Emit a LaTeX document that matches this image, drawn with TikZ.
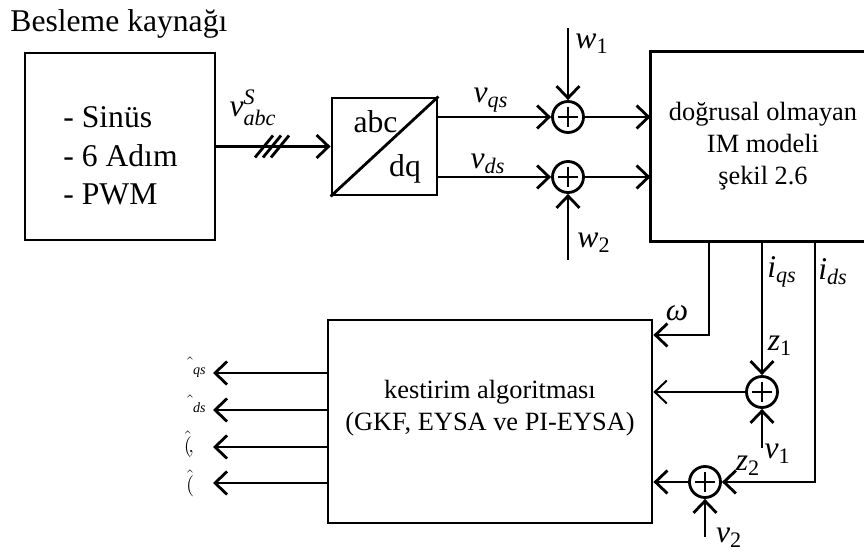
\documentclass[tikz,border=0pt]{standalone}
\usepackage{amsmath}
\usepackage{fontspec}
\setmainfont{Liberation Serif}
\usetikzlibrary{arrows.meta, positioning, calc}

\newcommand{\isaret}[2]{$\textit{#1}_{\textit{#2}}$}
\newcommand{\gurultu}[2]{$\textit{#1}_{\textup{#2}}$}

\begin{document}
\begin{tikzpicture}[line width=1.6pt,
  >={Straight Barb[length=2.4mm, width=4.6mm]},
  every node/.style={font=\fontsize{18}{21.8}\selectfont, inner sep=0pt},
  blok/.style={draw, rectangle, line width=1.6pt},
  icyazi/.style={align=center, font=\fontsize{15}{18.2}\selectfont},
  tahmin/.style={anchor=east, font=\fontsize{12}{14}\selectfont},
  topla/.style={draw, circle, minimum size=0.62cm, line width=1.6pt,
    path picture={\draw[line width=1.2pt]
      ([xshift=-0.2cm]path picture bounding box.center) -- ([xshift=0.2cm]path picture bounding box.center)
      ([yshift=-0.2cm]path picture bounding box.center) -- ([yshift=0.2cm]path picture bounding box.center);}}]
  \useasboundingbox (0,0) rectangle (17.28,11.06);
  \clip (0,0) rectangle (17.28,11.06);
  % Besleme kaynagi
  \node[anchor=base west] (baslik) at (0.18,10.42) {Besleme kaynağı};
  \node[blok, minimum width=3.8cm, minimum height=3.74cm] (kaynak) at (2.4,8.13) {};
  \node[align=left] (secenek) at (2.41,7.94) {- Sinüs\\- 6 Adım\\- PWM};
  % abc/dq donusumu
  \node[blok, minimum width=2.1cm, minimum height=1.94cm] (donusum) at (7.69,8.13) {};
  \draw (donusum.south west) -- (donusum.north east);
  \node (abc) at (7.51,8.62) {abc};
  \node (dq) at (8.1,7.69) {dq};
  \draw[->] (kaynak.east) -- (donusum.west);
  \coordinate (cizgi) at (5.44,8.13);
  \foreach \dx in {-0.16,0,0.16}
    \draw ($(cizgi)+(\dx-0.18,-0.22)$) -- ++(0.36,0.44);
  \node (vabc) at (5.06,8.9) {$\textit{v}^{\textit{S}}_{\textit{abc}}$};
  % toplama noktalari
  \node[topla] (s1) at (11.36,8.72) {};
  \node[topla] (s2) at (11.36,7.52) {};
  \coordinate (w1) at (11.36,10.5);
  \coordinate (w2) at (11.36,5.86);
  \draw[->] (donusum.east |- s1) -- (s1);
  \draw[->] (donusum.east |- s2) -- (s2);
  \draw[->] (w1) -- (s1);
  \draw[->] (w2) -- (s2);
  \node (vqs) at (9.82,9.06) {\isaret{v}{qs}};
  \node (vds) at (9.76,7.78) {\isaret{v}{ds}};
  \node (w1lab) at (11.84,10.18) {\gurultu{w}{1}};
  \node (w2lab) at (11.88,6.2) {\gurultu{w}{2}};
  % IM modeli
  \node[minimum width=4.44cm, minimum height=3.74cm, icyazi] (im) at (15.26,8.13)
    {doğrusal olmayan\\IM modeli\\şekil 2.6};
  \draw (im.north east) -- (im.north west) -- (im.south west) -- (im.south east);
  \draw[->] (s1) -- (im.west |- s1);
  \draw[->] (s2) -- (im.west |- s2);
  % kestirim algoritmasi
  \node[blok, minimum width=6.48cm, minimum height=4.06cm] (kes) at (9.8,2.63) {};
  \node[icyazi] (kesyazi) at (9.8,2.9) {kestirim algoritması\\(GKF, EYSA ve PI-EYSA)};
  % geri besleme
  \coordinate (om) at (14.18,4.36);
  \draw[->] (im.south -| om) -- (om) -- (kes.east |- om);
  \node (omlab) at (13.54,4.8) {\textit{ω}};
  \node[topla] (s3) at (15.24,3.22) {};
  \coordinate (v1) at (15.24,2.1);
  \draw[->] (im.south -| s3) -- (s3);
  \draw[->] (v1) -- (s3);
  \draw[->, line width=1.1pt] (s3) -- (kes.east |- s3);
  \node (iqs) at (15.64,5.62) {\isaret{i}{qs}};
  \node (z1) at (15.6,4.14) {\gurultu{z}{1}};
  \node (v1lab) at (15.55,1.98) {\gurultu{v}{1}};
  \node[topla] (s4) at (14.1,1.42) {};
  \coordinate (ids) at (16.3,1.42);
  \coordinate (v2) at (14.1,0.32);
  \draw[->] (im.south -| ids) -- (ids) -- (s4);
  \draw[->] (v2) -- (s4);
  \draw[->] (s4) -- (kes.east |- s4);
  \node (idslab) at (16.66,5.62) {\isaret{i}{ds}};
  \node (z2) at (14.96,1.74) {\gurultu{z}{2}};
  \node (v2lab) at (14.58,0.3) {\gurultu{v}{2}};
  % tahmin cikislari
  \foreach \y [count=\i] in {3.6,2.86,2.12,1.4} {
    \coordinate (cik\i) at (4.26,\y);
    \draw[->] (kes.west |- cik\i) -- (cik\i);
  }
  \node[tahmin] (t1) at ([xshift=-0.1cm, yshift=0.12cm]cik1) {$\hat{\phantom{\imath}}_{\textit{qs}}$};
  \node[tahmin] (t2) at ([xshift=-0.1cm, yshift=0.12cm]cik2) {$\hat{\phantom{\imath}}_{\textit{ds}}$};
  \node[tahmin] (t3) at ([xshift=-0.35cm, yshift=0.05cm]cik3) {$\hat{(}\!,$};
  \node[tahmin] (t4) at ([xshift=-0.35cm, yshift=0.0cm]cik4) {$\hat{(}$};
\end{tikzpicture}
\end{document}
